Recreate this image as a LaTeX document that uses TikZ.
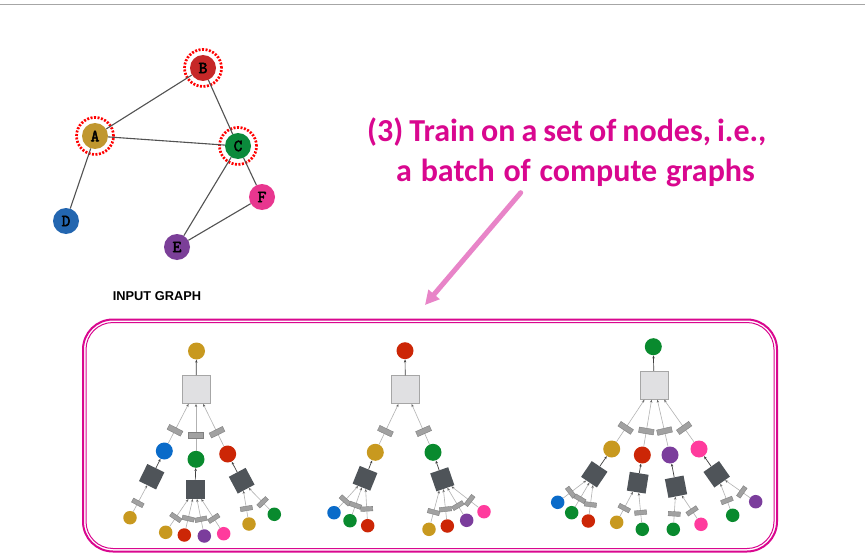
\documentclass[tikz,border=0pt]{standalone}
\usepackage{fontspec}
\setmainfont{Liberation Sans}
\newfontfamily\titlefont{Carlito}
\newfontfamily\gmono{Latin Modern Mono}[FakeBold=3]
\usetikzlibrary{arrows.meta}
\definecolor{iA}{HTML}{C0972F}
\definecolor{iB}{HTML}{C62828}
\definecolor{iC}{HTML}{0B8A3C}
\definecolor{iD}{HTML}{2366B0}
\definecolor{iE}{HTML}{7B3F98}
\definecolor{iF}{HTML}{E8368F}
\definecolor{cgold}{HTML}{C8991F}
\definecolor{cblue}{HTML}{0A6BC9}
\definecolor{cgreen}{HTML}{098A2E}
\definecolor{cred}{HTML}{CC2606}
\definecolor{cpurple}{HTML}{7B3D9C}
\definecolor{cpink}{HTML}{FF3B9D}
\definecolor{mag}{HTML}{D9078F}
\definecolor{pinkarrow}{HTML}{E884C8}
\definecolor{darksq}{HTML}{4F5459}
\definecolor{lightsq}{HTML}{E0E0E2}
\tikzset{
  gnode/.style={circle,minimum size=26pt,inner sep=0pt,font={\fontsize{17}{17}\gmono}},
  ring/.style={circle,minimum size=37pt,draw=red,line width=2.7pt,dash pattern=on 2pt off 1.5pt},
  gedge/.style={draw=black!68,line width=1.1pt},
  rootc/.style={circle,minimum size=17pt,inner sep=0pt},
  midc/.style={circle,minimum size=17pt,inner sep=0pt},
  leafc/.style={circle,minimum size=13.5pt,inner sep=0pt},
  bigsq/.style={rectangle,fill=lightsq,draw=black!35,line width=0.8pt,minimum size=28pt,inner sep=0pt},
  dsq/.style={rectangle,fill=darksq,minimum size=19pt,inner sep=0pt},
  grm/.style={rectangle,fill=black!37,draw=black!50,line width=0.4pt,minimum height=15pt,minimum width=5.5pt,inner sep=0pt},
  grl/.style={rectangle,fill=black!37,draw=black!50,line width=0.4pt,minimum height=12pt,minimum width=4.5pt,inner sep=0pt},
  ledge/.style={draw=black!30,line width=0.6pt,-{Stealth[length=3pt,width=2.4pt,color=black!60]}},
  uedge/.style={draw=black!75,line width=0.7pt,-{Stealth[length=3pt,width=2.4pt]}},
  ttl/.style={anchor=base west,inner sep=0pt,text=mag,font=\titlefont\bfseries\fontsize{32}{32}\selectfont},
}
\begin{document}
\begin{tikzpicture}[x=1pt,y=-1pt]
\useasboundingbox (0,0) rectangle (865,559);
\fill[white] (0,0) rectangle (865,559);
% top rule
\coordinate (tl) at (0,4.5);
\coordinate (tr) at (865,4.5);
\draw[black!35,line width=1.5pt] (tl) -- (tr);

% ---------- input graph ----------
\node[ring] (rB) at (203,68) {};
\node[ring] (rA) at (95,136) {};
\node[ring] (rC) at (238,146) {};
\node[gnode,fill=iB] (B) at (203,68) {B};
\node[gnode,fill=iA] (A) at (95,136) {A};
\node[gnode,fill=iC] (C) at (238,146) {C};
\node[gnode,fill=iD] (D) at (66,221) {D};
\node[gnode,fill=iF] (F) at (262,197) {F};
\node[gnode,fill=iE] (E) at (177,247) {E};
\draw[gedge] (A) -- (B);
\draw[gedge] (B) -- (C);
\draw[gedge] (A) -- (C);
\draw[gedge] (A) -- (D);
\draw[gedge] (C) -- (E);
\draw[gedge] (C) -- (F);
\draw[gedge] (F) -- (E);
\node[font=\bfseries\fontsize{12.8}{12.8}\selectfont] (ig) at (157,296.5) {INPUT GRAPH};

% ---------- title ----------
\node[ttl] (t1) at (367,141.5) {\spaceskip=6pt plus 1pt minus 1pt (3) Train on a set of nodes, i.e.,};
\node[ttl] (t2) at (396,182) {\spaceskip=8.8pt plus 1pt minus 1pt a batch of compute graphs};
\coordinate (as) at (520.7,192.7);
\coordinate (ae) at (425,305);
\draw[pinkarrow,line width=5pt,line cap=round,-{Triangle[length=14pt,width=14pt]}] (as) -- (ae);

% ---------- batch box ----------
\draw[mag,line width=2pt,rounded corners=30pt] (83,319.5) rectangle (777,551.5);
\draw[mag,line width=1pt,rounded corners=27pt] (86,322.5) rectangle (774,548.5);

% ---------- compute graph 1 (A) ----------
\node[rootc,fill=cgold] (g1r) at (196.5,351) {};
\node[bigsq] (g1s) at (196,389.5) {};
\draw[uedge] (g1s) -- (g1r);
\node[midc,fill=cblue] (g1a) at (164.3,451) {};
\node[midc,fill=cgreen] (g1b) at (196,459.3) {};
\node[midc,fill=cred] (g1c) at (227.7,454) {};
\draw[ledge] (g1a) -- node[grm,sloped,pos=0.33]{} (g1s);
\draw[ledge] (g1b) -- node[grm,sloped,pos=0.33]{} (g1s);
\draw[ledge] (g1c) -- node[grm,sloped,pos=0.33]{} (g1s);
\node[dsq,rotate=-26] (g1da) at (151.7,476.7) {};
\node[dsq] (g1db) at (195,489.3) {};
\node[dsq,rotate=28] (g1dc) at (241.7,480.7) {};
\draw[uedge] (g1da) -- (g1a);
\draw[uedge] (g1db) -- (g1b);
\draw[uedge] (g1dc) -- (g1c);
\node[leafc,fill=cgold] (g1a1) at (130,517.7) {};
\draw[ledge] (g1a1) -- node[grl,sloped,pos=0.33]{} (g1da);
\node[leafc,fill=cgold] (g1b1) at (165.7,532.3) {};
\node[leafc,fill=cred] (g1b2) at (184.3,535) {};
\node[leafc,fill=cpurple] (g1b3) at (204.3,536) {};
\node[leafc,fill=cpink] (g1b4) at (223.7,533.7) {};
\draw[ledge] (g1b1) -- node[grl,sloped,pos=0.33]{} (g1db);
\draw[ledge] (g1b2) -- node[grl,sloped,pos=0.33]{} (g1db);
\draw[ledge] (g1b3) -- node[grl,sloped,pos=0.33]{} (g1db);
\draw[ledge] (g1b4) -- node[grl,sloped,pos=0.33]{} (g1db);
\node[leafc,fill=cgold] (g1c1) at (249,524) {};
\node[leafc,fill=cgreen] (g1c2) at (274.3,514.3) {};
\draw[ledge] (g1c1) -- node[grl,sloped,pos=0.33]{} (g1dc);
\draw[ledge] (g1c2) -- node[grl,sloped,pos=0.33]{} (g1dc);

% ---------- compute graph 2 (B) ----------
\node[rootc,fill=cred] (g2r) at (405,350.7) {};
\node[bigsq] (g2s) at (405.3,389.7) {};
\draw[uedge] (g2s) -- (g2r);
\node[midc,fill=cgold] (g2a) at (375.3,452.3) {};
\node[midc,fill=cgreen] (g2b) at (433,452.3) {};
\draw[ledge] (g2a) -- node[grm,sloped,pos=0.33]{} (g2s);
\draw[ledge] (g2b) -- node[grm,sloped,pos=0.33]{} (g2s);
\node[dsq,rotate=-22] (g2da) at (365,478.3) {};
\node[dsq,rotate=19] (g2db) at (442.3,479.3) {};
\draw[uedge] (g2da) -- (g2a);
\draw[uedge] (g2db) -- (g2b);
\node[leafc,fill=cblue] (g2a1) at (334,512.7) {};
\node[leafc,fill=cgreen] (g2a2) at (350,520.7) {};
\node[leafc,fill=cred] (g2a3) at (367.7,525.7) {};
\draw[ledge] (g2a1) -- node[grl,sloped,pos=0.33]{} (g2da);
\draw[ledge] (g2a2) -- node[grl,sloped,pos=0.33]{} (g2da);
\draw[ledge] (g2a3) -- node[grl,sloped,pos=0.33]{} (g2da);
\node[leafc,fill=cgold] (g2b1) at (429,529.3) {};
\node[leafc,fill=cred] (g2b2) at (447.3,526) {};
\node[leafc,fill=cpurple] (g2b3) at (466.7,520.3) {};
\node[leafc,fill=cpink] (g2b4) at (484,511.7) {};
\draw[ledge] (g2b1) -- node[grl,sloped,pos=0.33]{} (g2db);
\draw[ledge] (g2b2) -- node[grl,sloped,pos=0.33]{} (g2db);
\draw[ledge] (g2b3) -- node[grl,sloped,pos=0.33]{} (g2db);
\draw[ledge] (g2b4) -- node[grl,sloped,pos=0.33]{} (g2db);

% ---------- compute graph 3 (C) ----------
\node[rootc,fill=cgreen] (g3r) at (653.3,346.7) {};
\node[bigsq] (g3s) at (654,385.3) {};
\draw[uedge] (g3s) -- (g3r);
\node[midc,fill=cgold] (g3a) at (611.7,449) {};
\node[midc,fill=cred] (g3b) at (642.3,455) {};
\node[midc,fill=cpurple] (g3c) at (670,455) {};
\node[midc,fill=cpink] (g3d) at (699,449) {};
\draw[ledge] (g3a) -- node[grm,sloped,pos=0.33]{} (g3s);
\draw[ledge] (g3b) -- node[grm,sloped,pos=0.33]{} (g3s);
\draw[ledge] (g3c) -- node[grm,sloped,pos=0.33]{} (g3s);
\draw[ledge] (g3d) -- node[grm,sloped,pos=0.33]{} (g3s);
\node[dsq,rotate=-34] (g3da) at (594.3,474.3) {};
\node[dsq,rotate=-9] (g3db) at (637.7,482.7) {};
\node[dsq,rotate=11] (g3dc) at (676,486.7) {};
\node[dsq,rotate=35] (g3dd) at (716.7,474.3) {};
\draw[uedge] (g3da) -- (g3a);
\draw[uedge] (g3db) -- (g3b);
\draw[uedge] (g3dc) -- (g3c);
\draw[uedge] (g3dd) -- (g3d);
\node[leafc,fill=cblue] (g3a1) at (557.7,502.3) {};
\node[leafc,fill=cgreen] (g3a2) at (571.7,512.7) {};
\node[leafc,fill=cred] (g3a3) at (588.3,521) {};
\draw[ledge] (g3a1) -- node[grl,sloped,pos=0.33]{} (g3da);
\draw[ledge] (g3a2) -- node[grl,sloped,pos=0.33]{} (g3da);
\draw[ledge] (g3a3) -- node[grl,sloped,pos=0.33]{} (g3da);
\node[leafc,fill=cgold] (g3b1) at (616.7,522.3) {};
\node[leafc,fill=cgreen] (g3b2) at (642.3,529.3) {};
\draw[ledge] (g3b1) -- node[grl,sloped,pos=0.33]{} (g3db);
\draw[ledge] (g3b2) -- node[grl,sloped,pos=0.33]{} (g3db);
\node[leafc,fill=cgreen] (g3c1) at (673.3,529.3) {};
\node[leafc,fill=cpink] (g3c2) at (701,524.3) {};
\draw[ledge] (g3c1) -- node[grl,sloped,pos=0.33]{} (g3dc);
\draw[ledge] (g3c2) -- node[grl,sloped,pos=0.33]{} (g3dc);
\node[leafc,fill=cgreen] (g3d1) at (732.7,515.3) {};
\node[leafc,fill=cpurple] (g3d2) at (755.7,501.7) {};
\draw[ledge] (g3d1) -- node[grl,sloped,pos=0.33]{} (g3dd);
\draw[ledge] (g3d2) -- node[grl,sloped,pos=0.33]{} (g3dd);
\end{tikzpicture}
\end{document}
